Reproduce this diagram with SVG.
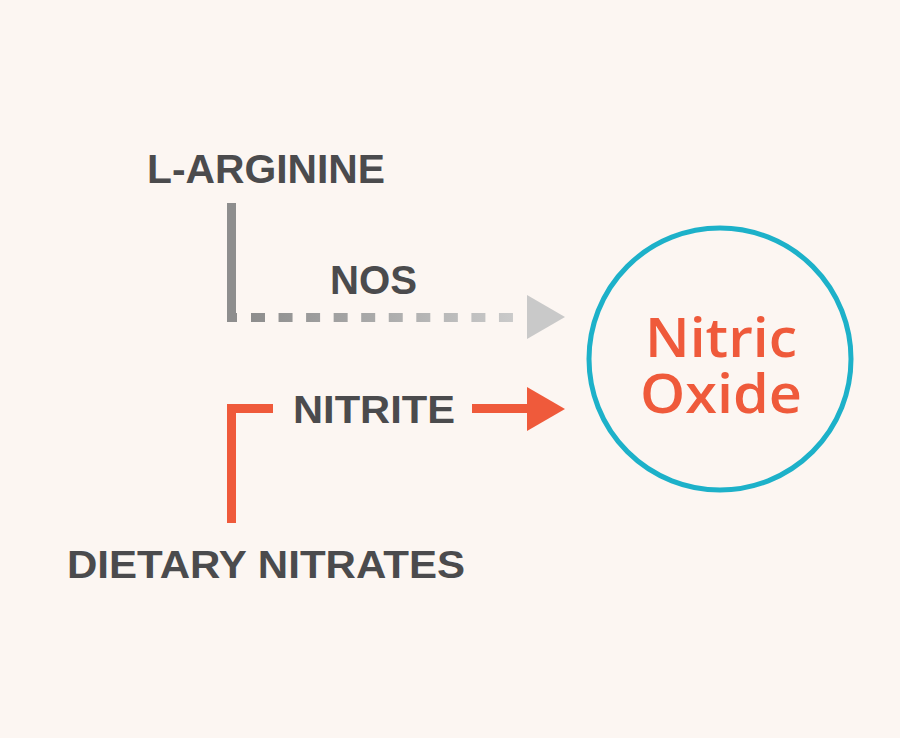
<svg xmlns="http://www.w3.org/2000/svg" width="900" height="738" viewBox="0 0 900 738">
  <defs>
    <linearGradient id="dashGrad" gradientUnits="userSpaceOnUse" x1="250" y1="0" x2="515" y2="0">
      <stop offset="0" stop-color="#8d8d8d"/>
      <stop offset="1" stop-color="#cacaca"/>
    </linearGradient>
    <style>
      .lbl { font-family: "Liberation Sans", "DejaVu Sans", sans-serif; font-weight: bold; fill: #4b4b4d; }
      .no { font-family: "Open Sans", "Liberation Sans", sans-serif; font-weight: 600; fill: #ef5a3b; font-size: 54px; text-anchor: middle; }
      .orange { stroke: #ef5a3b; stroke-width: 9; fill: none; }
    </style>
  </defs>
  <rect width="900" height="738" fill="#fcf6f2"/>

  <g id="connectors">
    <path d="M231.5 203 V322" stroke="#8e8e8e" stroke-width="9" fill="none"/>
    <rect x="227" y="313" width="10" height="9" fill="#8e8e8e"/>
    <line x1="251" y1="317.5" x2="514" y2="317.5" stroke="url(#dashGrad)" stroke-width="9" stroke-dasharray="14 13.55"/>
    <polygon points="527,295 565,317 527,339" fill="#c9c9c9"/>
    <path class="orange" d="M231.5 523 V408.5 H273"/>
    <line class="orange" x1="472" y1="408.5" x2="528" y2="408.5"/>
    <polygon points="527,387 565,409 527,431" fill="#ef5a3b"/>
  </g>

  <g id="l-arginine">
    <text class="lbl" x="147" y="183" font-size="41" textLength="238" lengthAdjust="spacingAndGlyphs">L-ARGININE</text>
  </g>
  <g id="nos">
    <text class="lbl" x="330" y="294" font-size="40" textLength="87" lengthAdjust="spacingAndGlyphs">NOS</text>
  </g>
  <g id="nitrite">
    <text class="lbl" x="293" y="423" font-size="39" textLength="162" lengthAdjust="spacingAndGlyphs">NITRITE</text>
  </g>
  <g id="dietary-nitrates">
    <text class="lbl" x="67" y="578" font-size="39" textLength="398" lengthAdjust="spacingAndGlyphs">DIETARY NITRATES</text>
  </g>
  <g id="nitric-oxide">
    <circle cx="720" cy="359" r="131" fill="none" stroke="#1db1c9" stroke-width="5"/>
    <text class="no" x="721" y="357" textLength="152" lengthAdjust="spacingAndGlyphs">Nitric</text>
    <text class="no" x="721" y="413" textLength="162" lengthAdjust="spacingAndGlyphs">Oxide</text>
  </g>
</svg>
